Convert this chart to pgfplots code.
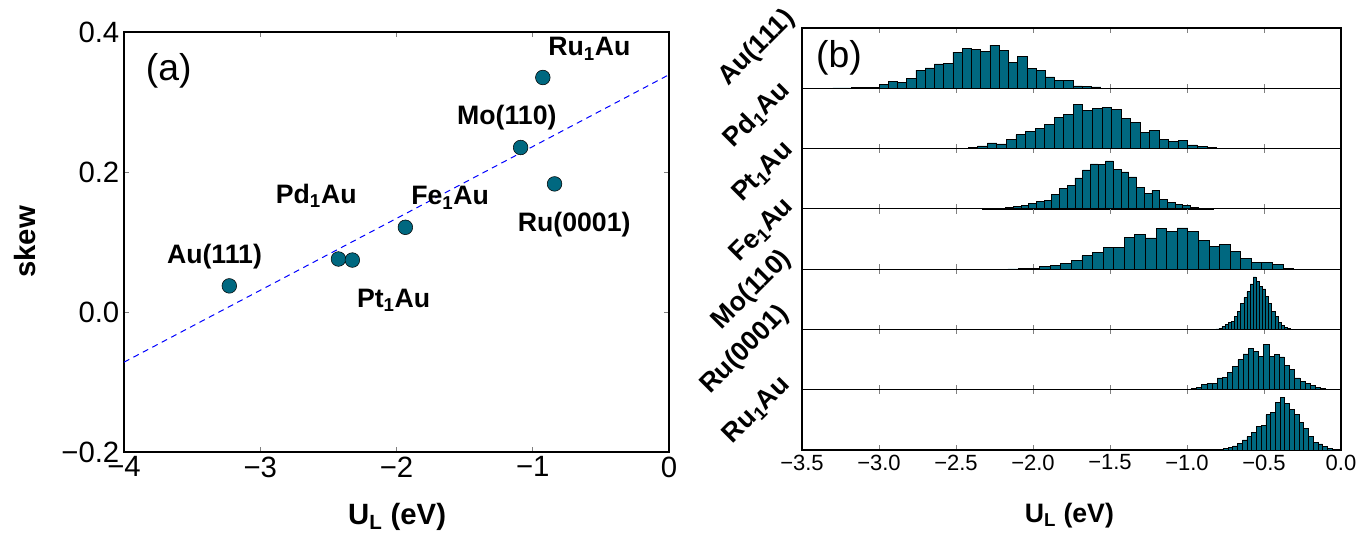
\documentclass[border=0pt]{standalone}
\usepackage{pgfplots}
\pgfplotsset{compat=1.18}
\usepackage{fontspec}
\setmainfont{Liberation Sans}
\definecolor{teal}{RGB}{0,104,128}
\pgfplotsset{
  rowstyle/.style={
    scale only axis, width=404.25pt, height=45.214pt, anchor=south west,
    xmin=-3.5, xmax=0, ymin=0, ymax=60,
    xtick={-3.5,-3,-2.5,-2,-1.5,-1,-0.5,0},
    xticklabels={}, ytick=\empty,
    tick align=inside, major tick length=3.5pt, xtick pos=both,
    tick style={gray, line width=0.6pt},
    axis line style={line width=0.8pt},
    clip=false,
  },
  histo/.style={ybar interval, fill=teal, draw=black, line width=0.5pt},
}
\tikzset{rowlab/.style={font=\fontsize{20}{24}\selectfont\bfseries, rotate=45, anchor=center}}
\begin{document}
\begin{tikzpicture}
\useasboundingbox (0,0) rectangle (1017pt,405.75pt);
% ---------------- panel (a)
\begin{axis}[
  at={(93pt,66.75pt)}, anchor=south west,
  scale only axis, width=408.75pt, height=315pt,
  xmin=-4, xmax=0, ymin=-0.2, ymax=0.4,
  xtick={-4,-3,-2,-1,0}, xticklabels={−4,−3,−2,−1,0},
  ytick={-0.2,0,0.2,0.4}, yticklabels={−0.2,0.0,0.2,0.4},
  tick align=inside, major tick length=4pt, tick pos=both,
  tick style={gray, line width=0.6pt},
  tick label style={font=\fontsize{22}{26}\selectfont},
  axis line style={line width=0.8pt},
  clip=false,
]
\addplot[blue, dash pattern=on 4.5pt off 3.5pt, line width=0.75pt] coordinates {(-4,-0.0717) (0,0.339)};
\addplot[only marks, mark=*, mark size=5.5pt, mark options={fill=teal, draw=black, line width=0.4pt}] coordinates {
(-3.227,0.0373) (-2.426,0.0757) (-2.324,0.0742) (-1.935,0.121) (-1.089,0.235) (-0.840,0.183) (-0.926,0.335)};
\begin{scope}[every node/.style={font=\fontsize{20}{24}\selectfont\bfseries}]
\node at (axis cs:-0.584,0.376) {Ru\textsubscript{1}Au};
\node at (axis cs:-1.19,0.278) {Mo(110)};
\node at (axis cs:-2.589,0.166) {Pd\textsubscript{1}Au};
\node at (axis cs:-1.606,0.163) {Fe\textsubscript{1}Au};
\node at (axis cs:-0.696,0.125) {Ru(0001)};
\node at (axis cs:-3.336,0.079) {Au(111)};
\node at (axis cs:-2.021,0.0167) {Pt\textsubscript{1}Au};
\end{scope}
\node[font=\fontsize{28}{32}\selectfont] at (axis cs:-3.672,0.345) {(a)};
\node[font=\fontsize{22}{26}\selectfont\bfseries] at (rel axis cs:0.501,-0.155) {U\textsubscript{L} (eV)};
\node[font=\fontsize{22}{26}\selectfont\bfseries, rotate=90] at (rel axis cs:-0.182,0.5) {skew};
\end{axis}
% ---------------- panel (b)
% row 1 Au(111)
\begin{axis}[rowstyle, at={(601.5pt,339.53pt)}]
\addplot[histo] coordinates {
(-3.36,0.2) (-3.30,0.3) (-3.24,0.3) (-3.18,0.5) (-3.12,0.8) (-3.06,1.0) (-3.00,3.7) (-2.94,7) (-2.88,5.7) (-2.82,10)
(-2.76,18) (-2.70,20.3) (-2.64,24.3) (-2.58,25) (-2.52,36) (-2.46,39.7) (-2.40,38.7) (-2.34,36.3) (-2.28,43) (-2.22,38)
(-2.16,25.7) (-2.10,32) (-2.04,19.7) (-1.98,17.7) (-1.92,11.3) (-1.86,8) (-1.80,7.5) (-1.74,2.3) (-1.68,2) (-1.62,1.3) (-1.56,0)};
\node[rowlab] at (rel axis cs:-0.0835,0.668) {Au(111)};
\node[font=\fontsize{28}{32}\selectfont] at (rel axis cs:0.0686,0.5) {(b)};
\end{axis}
% row 2 Pd1Au
\begin{axis}[rowstyle, at={(601.5pt,294.32pt)}]
\addplot[histo] coordinates {
(-2.607,0.4) (-2.545,0.3) (-2.483,0.1) (-2.421,1.0) (-2.359,2.7) (-2.297,5.7) (-2.235,4.7) (-2.173,8.7) (-2.111,13.7) (-2.049,17)
(-1.987,20.3) (-1.925,24.3) (-1.863,31) (-1.801,34.3) (-1.739,43.7) (-1.677,38.3) (-1.615,40) (-1.553,40.7) (-1.491,38.7) (-1.429,30)
(-1.367,25.7) (-1.305,16.3) (-1.243,17.7) (-1.181,9) (-1.119,6.7) (-1.057,7.7) (-0.995,3.7) (-0.933,2) (-0.871,1) (-0.809,0.3) (-0.747,0)};
\node[rowlab] at (rel axis cs:-0.0835,0.557) {Pd\textsubscript{1}Au};
\end{axis}
% row 3 Pt1Au
\begin{axis}[rowstyle, at={(601.5pt,249.11pt)}]
\addplot[histo] coordinates {
(-2.328,0.2) (-2.278,0.3) (-2.228,0.2) (-2.178,1.7) (-2.128,2.7) (-2.078,3.7) (-2.028,5) (-1.978,7) (-1.928,8.3) (-1.878,14.3)
(-1.828,20.7) (-1.778,23) (-1.728,30.7) (-1.678,38.7) (-1.628,44.7) (-1.578,44.3) (-1.528,47.7) (-1.478,39) (-1.428,36.7) (-1.378,31.7)
(-1.328,21) (-1.278,15.7) (-1.228,18.3) (-1.178,9.7) (-1.128,6.3) (-1.078,4.3) (-1.028,3) (-0.978,1.7) (-0.928,0.7) (-0.878,0.4) (-0.828,0)};
\node[rowlab] at (rel axis cs:-0.0724,0.612) {Pt\textsubscript{1}Au};
\end{axis}
% row 4 Fe1Au
\begin{axis}[rowstyle, at={(601.5pt,203.89pt)}]
\addplot[histo] coordinates {
(-2.163,0.3) (-2.094,0.5) (-2.026,0.7) (-1.957,2.3) (-1.888,4) (-1.820,5.3) (-1.751,8.3) (-1.682,13.3) (-1.614,16.3) (-1.545,21.3)
(-1.476,21.7) (-1.407,31.7) (-1.339,34.3) (-1.270,31) (-1.201,40.3) (-1.133,37.7) (-1.064,41) (-0.995,37.7) (-0.927,28.7) (-0.858,22.7)
(-0.789,25) (-0.721,17.3) (-0.652,10.3) (-0.583,6.7) (-0.515,6.7) (-0.446,4.3) (-0.377,0.7) (-0.309,0)};
\node[rowlab] at (rel axis cs:-0.0742,0.645) {Fe\textsubscript{1}Au};
\end{axis}
% row 5 Mo(110)
\begin{axis}[rowstyle, at={(601.5pt,158.68pt)}]
\addplot[histo] coordinates {
(-0.894,0.2) (-0.874,0.2) (-0.854,0.3) (-0.833,0.3) (-0.813,0.5) (-0.793,1) (-0.773,2.7) (-0.753,5) (-0.732,7) (-0.712,7.7)
(-0.692,13.3) (-0.672,17.7) (-0.652,26) (-0.631,31.7) (-0.611,37.7) (-0.591,45.3) (-0.571,52.3) (-0.551,48) (-0.530,42.7) (-0.510,40.3)
(-0.490,32.7) (-0.470,26) (-0.450,17.7) (-0.429,12.7) (-0.409,7) (-0.389,3.7) (-0.369,1.7) (-0.349,0.7) (-0.328,0)};
\node[rowlab] at (rel axis cs:-0.0928,0.653) {Mo(110)};
\end{axis}
% row 6 Ru(0001)
\begin{axis}[rowstyle, at={(601.5pt,113.46pt)}]
\addplot[histo] coordinates {
(-1.107,0.3) (-1.073,0.3) (-1.040,0.5) (-1.006,0.7) (-0.972,1.3) (-0.939,2.7) (-0.905,5) (-0.871,6.3) (-0.838,6.3) (-0.804,11.7)
(-0.771,12.3) (-0.737,17.3) (-0.704,23.3) (-0.670,30) (-0.636,35.7) (-0.603,40.7) (-0.569,38.3) (-0.536,33.3) (-0.502,45) (-0.468,33.3)
(-0.435,35) (-0.401,32.7) (-0.368,24) (-0.334,20) (-0.300,11.7) (-0.267,8.3) (-0.233,6) (-0.200,4) (-0.166,2) (-0.132,1.3) (-0.099,0.7) (-0.065,0)};
\node[rowlab] at (rel axis cs:-0.1058,0.659) {Ru(0001)};
\end{axis}
% row 7 Ru1Au
\begin{axis}[rowstyle, at={(601.5pt,68.25pt)},
  xticklabels={−3.5,−3.0,−2.5,−2.0,−1.5,−1.0,−0.5,0.0},
  xticklabel pos=bottom,
  tick label style={font=\fontsize{16.5}{20}\selectfont}]
\addplot[histo] coordinates {
(-0.856,0.3) (-0.825,0.4) (-0.795,0.7) (-0.764,1.3) (-0.733,2.3) (-0.703,4) (-0.672,6.3) (-0.641,10) (-0.611,13.3) (-0.580,17.7)
(-0.549,23.3) (-0.518,24.3) (-0.488,35) (-0.457,37.3) (-0.426,47.7) (-0.396,52.7) (-0.365,46) (-0.334,40) (-0.304,35) (-0.273,27.7)
(-0.242,21.7) (-0.211,13.3) (-0.181,7.7) (-0.150,6) (-0.119,3.3) (-0.089,1.7) (-0.058,0.5) (-0.027,0)};
\node[rowlab] at (rel axis cs:-0.0835,0.663) {Ru\textsubscript{1}Au};
\node[font=\fontsize{20}{24}\selectfont\bfseries] at (rel axis cs:0.496,-1.08) {U\textsubscript{L} (eV)};
\end{axis}
\end{tikzpicture}
\end{document}
